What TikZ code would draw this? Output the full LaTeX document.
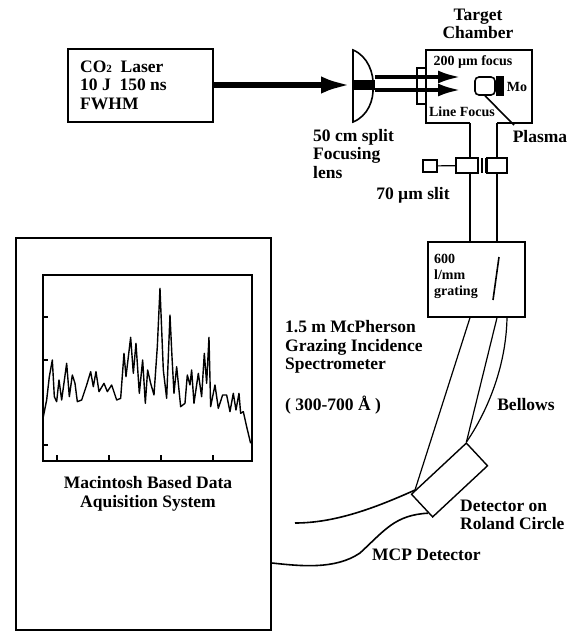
\documentclass[tikz,border=0pt]{standalone}
\usepackage{fontspec}
\setmainfont{Liberation Serif}
\usepackage{tikz}
\usetikzlibrary{arrows.meta,positioning,calc}
\tikzset{
  box/.style={draw, line width=1.4pt, inner sep=0pt},
  label/.style={inner sep=0pt, align=left, font=\bfseries\fontsize{17.5}{18.5}\selectfont},
  smalllabel/.style={inner sep=0pt, align=left, font=\bfseries\fontsize{14}{16}\selectfont},
  wall/.style={line width=1.6pt},
  thin wall/.style={line width=1.2pt},
  beam/.style={line width=3.2pt, -{Latex[length=22pt,width=13pt]}},
  mainbeam/.style={line width=6.5pt, -{Latex[length=32pt,width=17pt]}},
  trace/.style={line width=1.4pt, line join=round}
}
\begin{document}
\begin{tikzpicture}[x=1pt,y=-1pt]
  \useasboundingbox (0,0) rectangle (578,635);
  % laser and lens
  \node[box, minimum width=145pt, minimum height=73pt] (laser) at (140.5,85.5) {};
  \node[label, anchor=west] (lasertext) at (80,85) {CO{\fontsize{11}{12}\selectfont 2}\ \ Laser\\10 J\ \ 150 ns\\FWHM};
  \coordinate (lenstop) at (353,50);
  \coordinate (lensbot) at (353,122);
  \draw[wall] (lenstop) .. controls (368,56) and (374,74) .. (373,86) .. controls (374,100) and (368,116) .. (lensbot) -- cycle;
  \coordinate (lensin) at (353,85);
  \draw[mainbeam] (laser.east |- lensin) -- (lensin);
  \fill (353,80) rectangle (375,90);
  % target chamber
  \coordinate (beamone) at (375,77);
  \coordinate (beamtwo) at (375,90);
  \coordinate (focusone) at (460,77);
  \coordinate (focustwo) at (460,90);
  \draw[beam] (beamone) -- (focusone);
  \draw[beam] (beamtwo) -- (focustwo);
  \coordinate (chtl) at (426,50);
  \coordinate (chtr) at (532,50);
  \coordinate (chbl) at (470,123);
  \coordinate (chbr) at (497,123);
  \draw[wall] (chbl) -- (426,123) -- (chtl) -- (chtr) -- (532,123) -- (chbr);
  \node[box, minimum width=9pt, minimum height=36pt] (window) at (421.5,86) {};
  \node[draw, wall, rounded corners=4pt, minimum width=20pt, minimum height=18pt, inner sep=0pt] (target) at (485,86) {};
  \node[fill=black, minimum width=8pt, minimum height=20pt, inner sep=0pt, right=0pt of target] (moly) {};
  \node[smalllabel] (mo) at (517,87) {Mo};
  \node[smalllabel] (focusa) at (473,62) {200 µm focus};
  \node[smalllabel] (focusb) at (462,112) {Line Focus};
  \node[label, align=center] (chamber) at (478,24) {Target\\Chamber};
  \node[label] (plasma) at (540,137) {Plasma};
  \coordinate (plasmatip) at (514,125);
  \draw[wall] (target.south) -- (plasmatip);
  \node[label, anchor=west] (lens) at (313,154) {50 cm split\\Focusing\\lens};
  % slit
  \node[box, minimum width=22pt, minimum height=15pt] (slita) at (467,165.5) {};
  \node[box, minimum width=20pt, minimum height=15pt] (slitb) at (497,165.5) {};
  \node[box, minimum width=14pt, minimum height=12pt] (slitknob) at (430,166) {};
  \draw[thin wall] (slitknob) -- (slita);
  \draw[wall] (482,158) -- (482,173);
  \draw[wall] (486,158) -- (486,173);
  \node[label] (slit) at (413,195) {70 µm slit};
  % grating
  \node[box, minimum width=97pt, minimum height=75pt] (grating) at (476.5,279.5) {};
  \node[smalllabel, anchor=west] (gratingtext) at (434,276) {600\\l/mm\\grating};
  \draw[wall] (499,257) -- (493,300);
  \draw[wall] (chbl) -- (slita.north -| chbl);
  \draw[wall] (chbr) -- (slitb.north -| chbr);
  \draw[wall] (slita.south -| chbl) -- (grating.north -| chbl);
  \draw[wall] (slitb.south -| chbr) -- (grating.north -| chbr);
  % spectrometer arms and detector
  \node[box, minimum width=75pt, minimum height=31pt, rotate=43] (detector) at (449.5,480) {};
  \coordinate (armend) at ($(detector.north west)!0.08!(detector.north east)$);
  \draw[thin wall] (grating.south -| chbl) -- (armend);
  \draw[thin wall] (grating.south -| chbr) -- (detector.north east);
  \draw[thin wall] ($(grating.south -| chbr)+(10,0)$) .. controls (506,370) and (485,415) .. (detector.north east);
  \coordinate (cableend) at (295,523);
  \draw[wall] (cableend) .. controls (335,523) and (375,508) .. (armend);
  % computer
  \node[box, line width=1.6pt, minimum width=255pt, minimum height=392pt] (computer) at (143.5,434) {};
  \draw[wall] (computer.east |- 0,563) .. controls (300,566) and (335,570) .. (360,553) .. controls (385,530) and (395,515) .. ($(detector.south west)!0.2!(detector.north west)$);
  \node[box, line width=1.2pt, minimum width=209pt, minimum height=186pt] (screen) at (147.5,368) {};
  \foreach \ypos in {317,360,445}
    \draw[thin wall] (screen.west |- 0,\ypos) -- ++(6,0);
  \foreach \xpos in {57,109,161,213}
    \draw[thin wall] (screen.south -| \xpos,0) -- ++(0,-7);
  \begin{scope}[shift={(0,260)},scale=0.3333]
    \draw[trace] plot coordinates {(130,470) (140,420) (148,350) (157,300) (163,410) (170,425) (177,360) (185,420) (200,310) (208,410) (217,345) (225,370) (232,425) (245,420) (260,375) (272,335) (280,380) (288,335) (297,395) (312,370) (322,395) (335,375) (350,420) (362,415) (372,280) (378,350) (392,232) (400,340) (408,250) (418,400) (428,300) (436,430) (443,330) (452,370) (462,405) (472,260) (480,85) (490,330) (500,415) (510,165) (516,290) (522,400) (530,320) (542,440) (555,430) (562,345) (570,375) (575,330) (582,430) (595,340) (605,410) (613,280) (620,370) (627,232) (632,440) (645,375) (655,445) (668,405) (680,405) (690,455) (700,400) (708,450) (717,400) (722,460) (730,455) (740,500) (752,550)};
  \end{scope}
  \node[label, align=center] (mactext) at (148,494) {Macintosh Based Data\\Aquisition System};
  % labels on the right
  \node[label, anchor=west] (specname) at (285,347) {1.5 m McPherson\\Grazing Incidence\\Spectrometer};
  \node[label, anchor=west] (range) at (285,405) {( 300-700 Å )};
  \node[label] (bellows) at (526,405) {Bellows};
  \node[label, anchor=west] (roland) at (460,515) {Detector on\\Roland Circle};
  \node[label, anchor=west] (mcp) at (372,555) {MCP Detector};
\end{tikzpicture}
\end{document}
